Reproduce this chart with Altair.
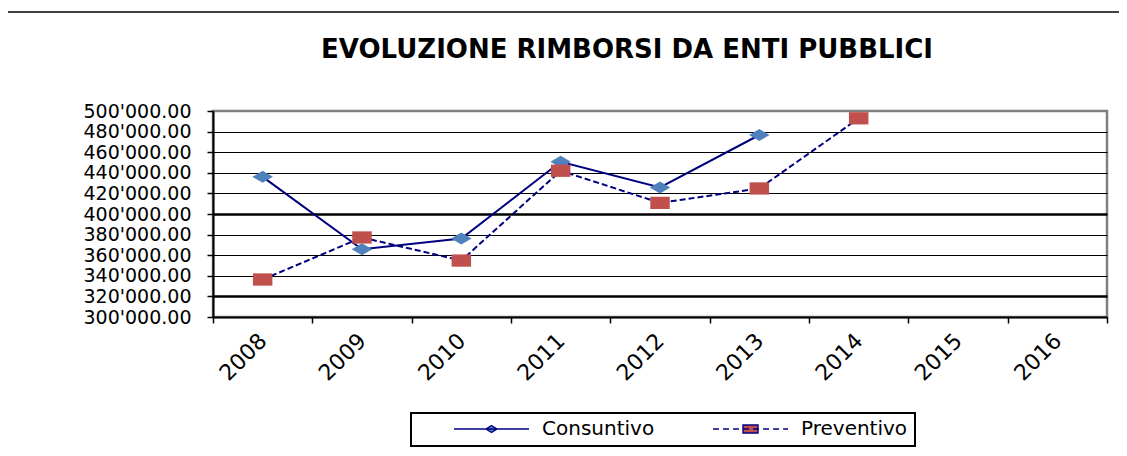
import altair as alt
import pandas as pd

# ---- data ----
years = ["2008", "2009", "2010", "2011", "2012", "2013", "2014", "2015", "2016"]
consuntivo_years = ["2008", "2009", "2010", "2011", "2012", "2013"]
consuntivo = [436100, 365800, 376200, 450700, 425800, 476700]
preventivo_years = ["2008", "2009", "2010", "2011", "2012", "2013", "2014"]
preventivo = [336400, 377200, 354800, 442000, 410800, 424800, 492900]
series = ["Consuntivo", "Preventivo"]
y_ticks = [300000, 320000, 340000, 360000, 380000, 400000,
           420000, 440000, 460000, 480000, 500000]
title_text = "EVOLUZIONE RIMBORSI DA ENTI PUBBLICI"

df_c = pd.DataFrame({"anno": consuntivo_years, "valore": consuntivo, "serie": "Consuntivo"})
df_p = pd.DataFrame({"anno": preventivo_years, "valore": preventivo, "serie": "Preventivo"})
legend_df = pd.DataFrame({"serie": series})
deco_df = pd.DataFrame({"k": [0]})

NAVY = "#000080"
BLUE = "#4F81BD"
RED = "#C0504D"
FONT = "DejaVu Sans"

# marker shapes (wide, as in the reference)
diamond_path = "M0,-0.59L1,0L0,0.59L-1,0Z"
square_path = "M-1,-0.63L1,-0.63L1,0.63L-1,0.63Z"

# legend symbols: line + marker
leg_c = "M-1,0L1,0M0,-0.093L0.147,0L0,0.093L-0.147,0Z"
dash_parts = []
pos = -1.0
while pos < 1.0:
    end = min(pos + 0.16, 1.0)
    dash_parts.append(f"M{pos:.3f},0L{end:.3f},0")
    pos = end + 0.107
leg_p = "".join(dash_parts) + "M-0.2,-0.107L0.2,-0.107L0.2,0.107L-0.2,0.107Z"

x_axis = alt.Axis(
    labelAngle=-45, labelAlign="right", labelBaseline="middle",
    labelFont=FONT, labelFontSize=22, labelColor="black", labelPadding=14,
    tickBand="extent", tickSize=6, tickColor="black", tickWidth=1.5,
    domainColor="black", domainWidth=2, grid=False,
)
y_axis = alt.Axis(
    values=y_ticks, format=",.2f",
    labelFont=FONT, labelFontSize=19, labelColor="black", labelPadding=16,
    tickSize=6, tickColor="black", tickWidth=1.5,
    domainColor="black", domainWidth=2,
    grid=True, gridColor="black",
    gridWidth={"condition": {"test": "datum.value == 320000 || datum.value == 400000", "value": 2.5}, "value": 1},
    gridOpacity={"condition": {"test": "datum.value == 500000", "value": 0}, "value": 1},
)

x_enc = alt.X("anno:N", scale=alt.Scale(type="band", domain=years, paddingInner=0, paddingOuter=0),
              axis=x_axis, title=None)
y_enc = alt.Y("valore:Q", scale=alt.Scale(domain=[300000, 500000], nice=False, zero=False),
              axis=y_axis, title=None)

line_c = alt.Chart(df_c).mark_line(color=NAVY, strokeWidth=2).encode(x=x_enc, y=y_enc)
line_p = alt.Chart(df_p).mark_line(color=NAVY, strokeWidth=2, strokeDash=[6, 3]).encode(x=x_enc, y=y_enc)
pts_c = alt.Chart(df_c).mark_point(filled=True, shape=diamond_path, size=420, color=BLUE, opacity=1).encode(x=x_enc, y=y_enc)
pts_p = alt.Chart(df_p).mark_point(filled=True, shape=square_path, size=380, color=RED, opacity=1).encode(x=x_enc, y=y_enc)

leg = alt.Legend(
    orient="none", legendX=198, legendY=302, direction="horizontal", title=None,
    symbolSize=5625, symbolStrokeWidth=1.4,
    symbolOffset=35, labelOffset=12, clipHeight=18,
    labelFont=FONT, labelFontSize=20, labelColor="black",
    columnPadding=22, padding=7, strokeColor="black",
)
legend_layer = alt.Chart(legend_df).mark_point(
    filled=False, strokeWidth=1.4, opacity=1
).encode(
    shape=alt.Shape("serie:N", scale=alt.Scale(domain=series, range=[leg_c, leg_p]), legend=leg),
    fill=alt.Fill("serie:N", scale=alt.Scale(domain=series, range=[BLUE, RED]), legend=leg),
    stroke=alt.Stroke("serie:N", scale=alt.Scale(domain=series, range=[NAVY, NAVY]), legend=leg),
).transform_filter("false")

top_rule = alt.Chart(deco_df).mark_rule(color="black", strokeWidth=1.5).encode(
    x=alt.value(-205), x2=alt.value(906), y=alt.value(-99)
)
title_mark = alt.Chart(deco_df).mark_text(
    text=title_text, font=FONT, fontSize=26, fontWeight="bold", color="black",
    align="center", baseline="alphabetic"
).encode(x=alt.value(414), y=alt.value(-53))

chart = alt.layer(top_rule, title_mark, line_c, line_p, pts_c, pts_p, legend_layer).properties(
    width=894, height=206,
    padding={"left": 205, "top": 103, "right": 12, "bottom": 131},
    autosize=alt.AutoSizeParams(type="none"),
).configure(
    locale={"number": {"decimal": ".", "thousands": "'", "grouping": [3], "currency": ["", ""]}}
).configure_view(
    stroke="#808080", strokeWidth=2.5
).configure_legend(
    strokeWidth=2
)

chart.save("out.html", embed_options={"renderer": "svg", "actions": False})
